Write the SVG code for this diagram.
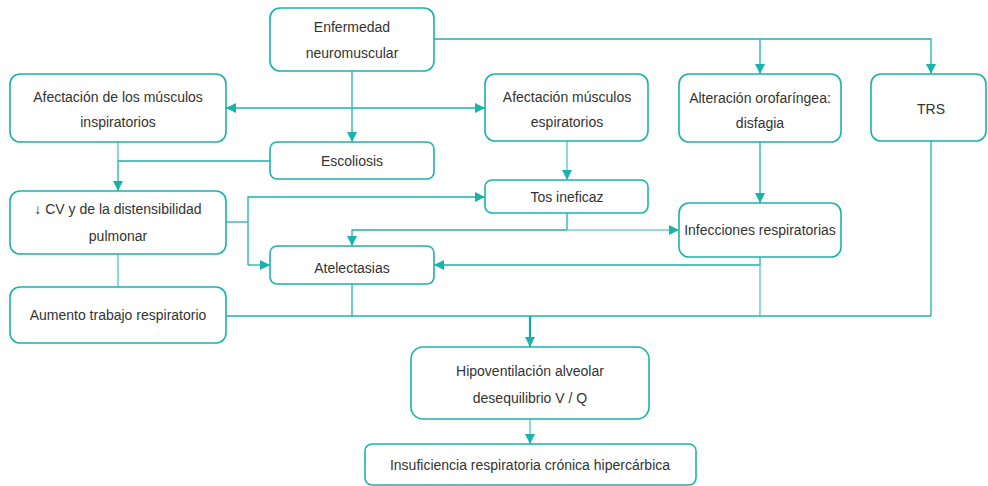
<svg xmlns="http://www.w3.org/2000/svg" width="988" height="486" viewBox="0 0 988 486">
<defs>
<style>
.box{fill:#fff;stroke:#1ab3ac;stroke-width:1.6}
.t{font-family:"Liberation Sans",Arial,sans-serif;font-size:14px;fill:#333;text-anchor:middle}
.c{fill:none;stroke:#1ab3ac;stroke-width:1.3}
.l{fill:none;stroke:#6fd3ce;stroke-width:1.6}
.k{fill:none;stroke:#13aaa3;stroke-width:2.2}
</style>
<marker id="a" viewBox="0 0 10 10" refX="10" refY="5" markerWidth="10" markerHeight="10" markerUnits="userSpaceOnUse" orient="auto-start-reverse">
<path d="M0,0 L10,5 L0,10 Z" fill="#1ab3ac"/>
</marker>
</defs>
<rect width="988" height="486" fill="#fff"/>
<g id="connectors">
<path class="c" d="M434,39 H931 V74" marker-end="url(#a)"/>
<path class="c" d="M760,39 V74" marker-end="url(#a)"/>
<path class="c" d="M352,71 V142" marker-end="url(#a)"/>
<path class="c" d="M226,108 H485" marker-start="url(#a)" marker-end="url(#a)"/>
<path class="l" d="M118,142 V161"/>
<path class="c" d="M270,161 H118 V191" marker-end="url(#a)"/>
<path class="l" d="M567,141 V180" marker-end="url(#a)"/>
<path class="c" d="M760,142 V203" marker-end="url(#a)"/>
<path class="c" d="M226,222 H248"/>
<path class="c" d="M248,265 V197 H485" marker-end="url(#a)"/>
<path class="c" d="M248,265 H270" marker-end="url(#a)"/>
<path class="c" d="M567,213 V230"/>
<path class="l" d="M567,230 H679" marker-end="url(#a)"/>
<path class="c" d="M567,230 H352 V246" marker-end="url(#a)"/>
<path class="c" d="M760,257 V265 H434" marker-end="url(#a)"/>
<path class="l" d="M760,265 V316"/>
<path class="c" d="M931,141 V316"/>
<path class="l" d="M118,254 V287"/>
<path class="c" d="M352,284 V316"/>
<path class="c" d="M226,316 H931"/>
<path class="k" d="M530,316 V347" marker-end="url(#a)"/>
<path class="l" d="M530,419 V444" marker-end="url(#a)"/>
</g>
<g id="n1"><rect class="box" x="270" y="8" width="164" height="63" rx="10"/><text class="t" x="352" y="32">Enfermedad</text><text class="t" x="352" y="58">neuromuscular</text></g>
<g id="n2"><rect class="box" x="10" y="74" width="216" height="68" rx="10"/><text class="t" x="118" y="102">Afectación de los músculos</text><text class="t" x="118" y="127">inspiratorios</text></g>
<g id="n3"><rect class="box" x="485" y="74" width="163" height="67" rx="10"/><text class="t" x="567" y="102">Afectación músculos</text><text class="t" x="567" y="127">espiratorios</text></g>
<g id="n4"><rect class="box" x="679" y="74" width="162" height="68" rx="10"/><text class="t" x="760" y="103">Alteración orofaríngea:</text><text class="t" x="760" y="128">disfagia</text></g>
<g id="n5"><rect class="box" x="871" y="74" width="115" height="67" rx="10"/><text class="t" x="931" y="114">TRS</text></g>
<g id="n6"><rect class="box" x="270" y="142" width="164" height="37" rx="7"/><text class="t" x="352" y="166">Escoliosis</text></g>
<g id="n7"><rect class="box" x="485" y="180" width="163" height="33" rx="7"/><text class="t" x="567" y="202">Tos ineficaz</text></g>
<g id="n8"><rect class="box" x="10" y="191" width="216" height="63" rx="10"/><text class="t" x="118" y="214">↓ CV  y de la distensibilidad</text><text class="t" x="118" y="241">pulmonar</text></g>
<g id="n9"><rect class="box" x="679" y="203" width="162" height="54" rx="10"/><text class="t" x="760" y="235">Infecciones respiratorias</text></g>
<g id="n10"><rect class="box" x="270" y="246" width="164" height="38" rx="7"/><text class="t" x="352" y="273">Atelectasias</text></g>
<g id="n11"><rect class="box" x="10" y="287" width="216" height="56" rx="10"/><text class="t" x="118" y="320">Aumento trabajo respiratorio</text></g>
<g id="n12"><rect class="box" x="411" y="347" width="238" height="72" rx="12"/><text class="t" x="530" y="376">Hipoventilación alveolar</text><text class="t" x="530" y="403">desequilibrio V / Q</text></g>
<g id="n13"><rect class="box" x="365" y="444" width="331" height="41" rx="7"/><text class="t" x="530" y="470">Insuficiencia respiratoria crónica hipercárbica</text></g>
</svg>
